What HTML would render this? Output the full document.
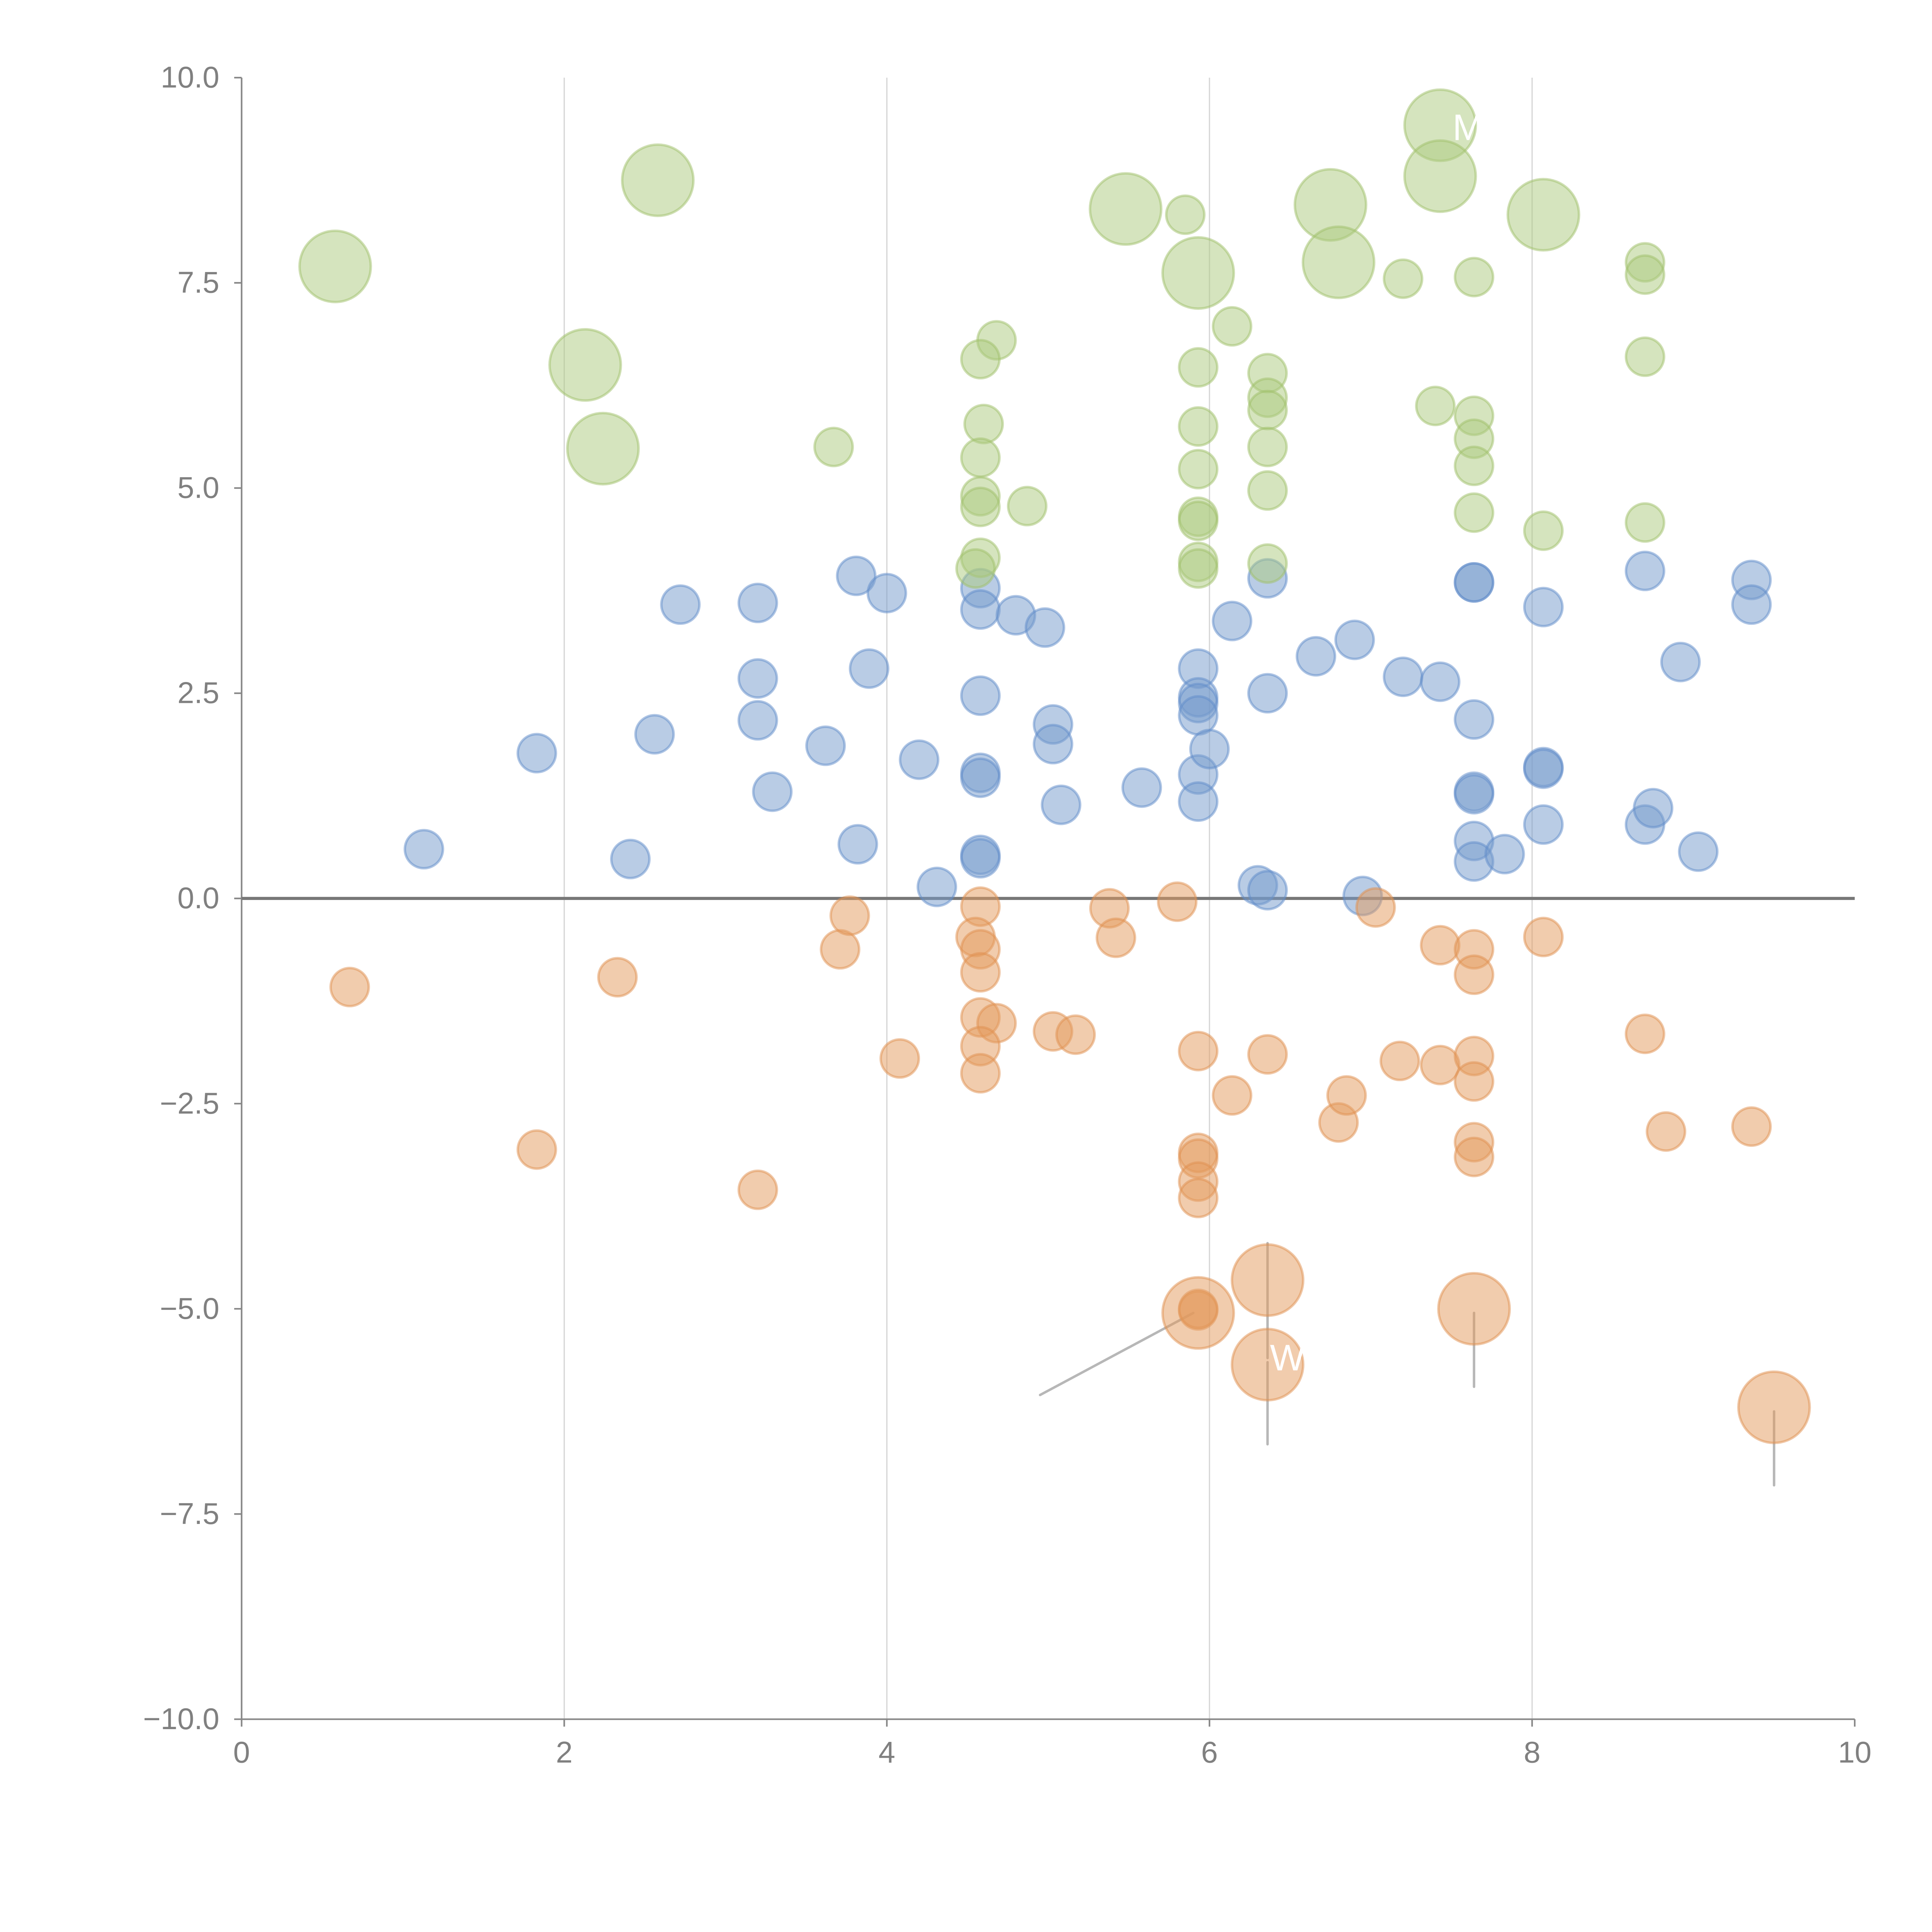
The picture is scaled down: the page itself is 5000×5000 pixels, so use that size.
<!DOCTYPE html>
<html><head><meta charset="utf-8"><style>
html,body{margin:0;padding:0;background:#fff;}
svg{display:block;}
text{font-family:"Liberation Sans",Arial,sans-serif;fill:#808080;font-size:24.4px;}
</style></head><body>
<svg id="chart" width="5000" height="5000" viewBox="0 0 1562.5 1562.5" xmlns="http://www.w3.org/2000/svg">
<g id="grid"></g>
<g id="axes"></g>
<g id="annots"></g>
<g id="marks"></g>
</svg>
<script>
const xTicks=[0,2,4,6,8,10];
const yTicks=[10,7.5,5,2.5,0,-2.5,-5,-7.5,-10];
const yTickLabels=["10.0","7.5","5.0","2.5","0.0","\u22122.5","\u22125.0","\u22127.5","\u221210.0"];
const greenBigX=[0.58,2.58,2.13,2.24,5.48,5.93,6.75,6.8,7.43,7.43,8.07];
const greenBigY=[7.7,8.75,6.5,5.48,8.4,7.62,8.45,7.75,9.42,8.8,8.33];
const greenX=[5.85,7.2,7.64,8.7,8.7,6.14,4.68,4.58,5.93,6.36,6.36,6.36,7.4,8.7,3.67,4.6,5.93,7.64,7.64,6.36,4.58,7.64,5.93,6.36,4.58,4.58,4.87,5.93,5.93,7.64,8.7,8.07,4.58,4.55,5.93,5.93,6.36];
const greenY=[8.33,7.55,7.57,7.75,7.6,6.97,6.8,6.57,6.47,6.4,6.1,5.95,6.0,6.6,5.5,5.78,5.75,5.88,5.6,5.5,5.37,5.27,5.23,4.97,4.9,4.77,4.78,4.65,4.6,4.7,4.58,4.48,4.15,4.02,4.1,4.02,4.08];
const blueX=[1.13,1.83,2.41,2.56,2.72,3.2,3.2,3.2,3.29,3.62,3.81,3.82,3.89,4.0,4.2,4.31,4.58,4.58,4.58,4.58,4.58,4.58,4.58,4.8,4.98,5.03,5.03,5.08,5.58,5.93,5.93,5.93,5.93,5.93,5.93,6.0,6.14,6.36,6.36,6.3,6.36,6.66,6.9,6.95,7.2,7.43,7.64,7.64,7.64,7.64,7.64,7.64,7.64,7.83,8.07,8.07,8.07,8.07,8.7,8.7,8.75,8.92,9.03,9.36,9.36];
const blueY=[0.6,1.77,0.48,2.0,3.58,3.6,2.68,2.17,1.3,1.86,3.93,0.66,2.8,3.72,1.69,0.14,3.78,3.52,2.47,1.53,1.47,0.53,0.49,3.45,3.3,2.12,1.88,1.14,1.35,2.8,2.45,2.38,2.23,1.51,1.18,1.82,3.38,3.9,2.5,0.16,0.1,2.95,3.15,0.03,2.7,2.64,3.85,3.85,2.18,1.3,1.27,0.7,0.45,0.54,3.55,1.6,1.58,0.9,3.99,0.9,1.1,2.88,0.57,3.88,3.58];
const orangeX=[0.67,1.83,2.33,3.2,3.71,3.77,4.08,4.58,4.55,4.58,4.58,4.58,4.68,4.58,4.58,5.03,5.17,5.38,5.42,5.8,5.93,5.93,5.93,5.93,5.93,6.14,6.36,6.8,6.85,7.03,7.18,7.43,7.43,7.64,7.64,7.64,7.64,7.64,7.64,8.07,8.7,8.83,9.36,5.93,5.93];
const orangeY=[-1.08,-3.06,-0.96,-3.55,-0.62,-0.21,-1.95,-0.1,-0.47,-0.62,-0.9,-1.45,-1.52,-1.8,-2.13,-1.62,-1.66,-0.12,-0.48,-0.04,-1.86,-3.1,-3.17,-3.45,-3.65,-2.4,-1.9,-2.73,-2.4,-0.11,-1.98,-0.57,-2.03,-0.62,-0.93,-1.92,-2.23,-2.97,-3.15,-0.47,-1.65,-2.84,-2.78,-5.02,-5.0];
const orangeBigX=[5.93,6.36,6.36,7.64,9.5];
const orangeBigY=[-5.05,-4.65,-5.68,-5.0,-6.2];
const leaderX1=[5.9,6.36,6.36,7.64,9.5];
const leaderY1=[-5.05,-4.2,-5.65,-5.05,-6.25];
const leaderX2=[4.95,6.36,6.36,7.64,9.5];
const leaderY2=[-6.05,-5.6,-6.65,-5.95,-7.15];

const X0=195.4,X1=1500,Y0=1390.4,Y1=62.8;
const sx=v=>X0+(v-0)/(10-0)*(X1-X0);
const sy=v=>Y0-(v+10)/20*(Y0-Y1);
const NS="http://www.w3.org/2000/svg";
function mk(tag,parent,attrs){const e=document.createElementNS(NS,tag);for(const k in attrs)e.setAttribute(k,attrs[k]);parent.appendChild(e);return e;}
const grid=document.getElementById('grid'),axes=document.getElementById('axes'),marks=document.getElementById('marks'),annots=document.getElementById('annots');

xTicks.forEach(t=>{
  if(t>0&&t<10){const g=mk('line',grid,{x1:sx(t),x2:sx(t),y1:Y1,y2:Y0,stroke:'#d6d6d6','stroke-width':1});
  
  }
  const tk=mk('line',axes,{x1:sx(t),x2:sx(t),y1:Y0,y2:Y0+6,stroke:'#888','stroke-width':1.3});
  
  
  const lb=mk('text',axes,{x:sx(t),y:Y0+35,'text-anchor':'middle'});lb.textContent=t;
  
  
});
yTicks.forEach((t,i)=>{
  const tk=mk('line',axes,{x1:X0-6,x2:X0,y1:sy(t),y2:sy(t),stroke:'#888','stroke-width':1.3});
  
  
  const lb=mk('text',axes,{x:X0-18,y:sy(t)+8,'text-anchor':'end'});lb.textContent=yTickLabels[i];
  
  
});
const ya=mk('line',axes,{x1:X0,x2:X0,y1:Y1,y2:Y0,stroke:'#888','stroke-width':1.3});


const xa=mk('line',axes,{x1:X0,x2:X1,y1:Y0,y2:Y0,stroke:'#888','stroke-width':1.3});


const zl=mk('line',axes,{x1:X0,x2:X1,y1:sy(0),y2:sy(0),stroke:'#777','stroke-width':2.5});



function series(xs,ys,r,fill,stroke,name){
  xs.forEach((x,i)=>{
    const c=mk('circle',marks,{cx:sx(x),cy:sy(ys[i]),r:r,fill:fill,'fill-opacity':0.5,stroke:stroke,'stroke-opacity':0.5,'stroke-width':2});
    
    
  });
}
series(blueX,blueY,15.4,'#7399cc','#5f8cca','bubble-negative-blue');
series(greenX,greenY,15.4,'#acc97e','#9fc06a','bubble-green');
series(greenBigX,greenBigY,28.8,'#acc97e','#9fc06a','bubble-green-large');
series(orangeX,orangeY,15.4,'#e39a5c','#df9050','bubble-orange');
series(orangeBigX,orangeBigY,28.8,'#e39a5c','#df9050','bubble-orange-large');

leaderX1.forEach((x,i)=>{
  const l=mk('line',annots,{x1:sx(x),y1:sy(leaderY1[i]),x2:sx(leaderX2[i]),y2:sy(leaderY2[i]),stroke:'#999','stroke-opacity':0.7,'stroke-width':2,'stroke-linecap':'round'});
  
  
});
const lbl=mk('text',document.getElementById('chart'),{x:sx(6.36)+2,y:sy(-5.6)+10,style:'fill:#fff;font-size:30px'});lbl.textContent='W';


const lbl2=mk('text',document.getElementById('chart'),{x:sx(7.43)+10,y:sy(9.42)+12,style:'fill:#fff;font-size:30px'});lbl2.textContent='M';


</script>
</body></html>
